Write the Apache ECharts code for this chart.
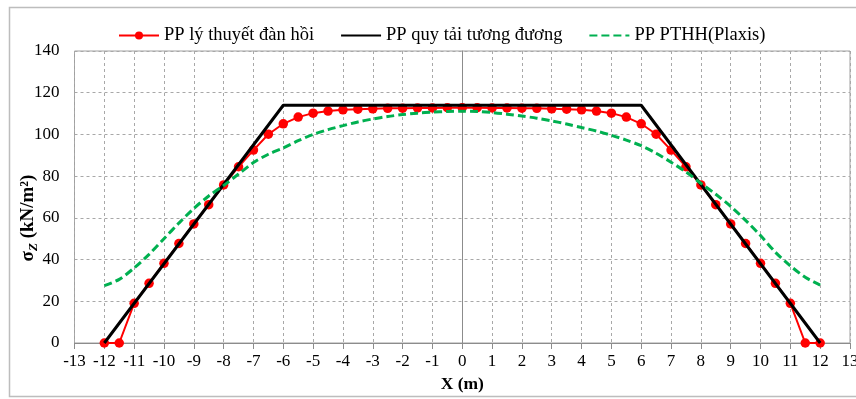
<!DOCTYPE html>
<html>
<head>
<meta charset="utf-8">
<script src="https://cdn.jsdelivr.net/npm/echarts@6/dist/echarts.min.js"></script>
<style>
  html, body { margin: 0; padding: 0; background: #fff; }
  #chart { width: 856px; height: 399px; }
</style>
</head>
<body>
<div id="chart"></div>
<script>
// Vertical stress under an embankment: three calculation methods
const seriesNames = ['PP lý thuyết đàn hồi', 'PP quy tải tương đương', 'PP PTHH(Plaxis)'];

// Elastic theory (sampled every 0.5 m)
const elasticX = [-12, -11.5, -11, -10.5, -10, -9.5, -9, -8.5, -8, -7.5, -7, -6.5, -6, -5.5, -5, -4.5, -4, -3.5, -3, -2.5, -2, -1.5, -1, -0.5,
  0, 0.5, 1, 1.5, 2, 2.5, 3, 3.5, 4, 4.5, 5, 5.5, 6, 6.5, 7, 7.5, 8, 8.5, 9, 9.5, 10, 10.5, 11, 11.5, 12];
const elasticY = [0, 0, 19.0, 28.6, 38.2, 47.7, 57.1, 66.3, 75.8, 84.5, 92.5, 100.1, 105.1, 108.3, 110.2, 111.2, 111.8, 112.1, 112.3, 112.5, 112.6, 112.7, 112.7, 112.8,
  112.8, 112.8, 112.7, 112.7, 112.6, 112.5, 112.3, 112.1, 111.8, 111.2, 110.2, 108.3, 105.1, 100.1, 92.5, 84.5, 75.8, 66.3, 57.1, 47.7, 38.2, 28.6, 19.0, 0, 0];

// Equivalent load method (trapezoid)
const equivX = [-12, -6, 6, 12];
const equivY = [0, 114, 114, 0];

// Finite element (Plaxis)
const plaxisX = [-12, -11.5, -11, -10.5, -10, -9.5, -9, -8.5, -8, -7.5, -7, -6.5, -6, -5.5, -5, -4.5, -4, -3.5, -3, -2.5, -2, -1.5, -1, -0.5,
  0, 0.5, 1, 1.5, 2, 2.5, 3, 3.5, 4, 4.5, 5, 5.5, 6, 6.5, 7, 7.5, 8, 8.5, 9, 9.5, 10, 10.5, 11, 11.5, 12];
const plaxisY = [27.5, 30.5, 36, 42.5, 50, 57.5, 64.5, 70.5, 75.5, 81, 86.5, 90.5, 93.5, 97, 100, 102.3, 104.2, 106, 107.4, 108.6, 109.5, 110.2, 110.7, 111,
  111.1, 111, 110.5, 109.7, 108.8, 107.8, 106.5, 105, 103.3, 101.6, 99.6, 97.3, 94.6, 91, 86.7, 82, 76.6, 71.3, 65.5, 58.8, 51.5, 43.5, 37, 31.5, 27.8];

const pair = (xs, ys) => xs.map((x, i) => [x, ys[i]]);

const FONT = '"Liberation Serif", "Times New Roman", serif';
const gridLine = { show: true, lineStyle: { color: '#a8a8a8', type: [3, 3], width: 1 } };

const chart = echarts.init(document.getElementById('chart'), null, { renderer: 'canvas' });
chart.setOption({
  animation: false,
  backgroundColor: '#fff',
  textStyle: { fontFamily: FONT },
  graphic: [
    {
      type: 'rect',
      shape: { x: 9.5, y: 7.5, width: 900, height: 389 },
      style: { fill: 'none', stroke: '#bdbdbd', lineWidth: 1.5 },
      silent: true
    },
    {
      type: 'text',
      x: 28, y: 218,
      rotation: Math.PI / 2,
      style: {
        text: '{b|σ}{s|Z}{b| (kN/m²)}',
        align: 'center',
        verticalAlign: 'middle',
        rich: {
          b: { fontFamily: FONT, fontSize: 19, fontWeight: 'bold', fill: '#000', lineHeight: 24, verticalAlign: 'middle' },
          s: { fontFamily: FONT, fontSize: 13, fontWeight: 'bold', fontStyle: 'italic', fill: '#000', lineHeight: 24, verticalAlign: 'bottom' }
        }
      }
    }
  ],
  legend: {
    top: 21,
    left: 113,
    itemWidth: 40,
    itemHeight: 10,
    itemGap: 26,
    textStyle: { fontFamily: FONT, fontSize: 18.5, color: '#000' },
    data: [
      { name: seriesNames[0] },
      { name: seriesNames[1], itemStyle: { opacity: 0 } },
      { name: seriesNames[2], itemStyle: { opacity: 0 } }
    ]
  },
  grid: {
    left: 74.5, right: 6, top: 51, bottom: 56,
    show: true, borderColor: '#a0a0a0', borderWidth: 1,
    containLabel: false,
    outerBoundsMode: 'none'
  },
  xAxis: {
    type: 'value',
    min: -13, max: 13, interval: 1,
    name: 'X (m)',
    nameLocation: 'middle',
    nameGap: 32,
    nameTextStyle: { fontFamily: FONT, fontSize: 17.5, fontWeight: 'bold', color: '#000' },
    axisLine: { show: true, lineStyle: { color: '#8c8c8c', width: 1 } },
    axisTick: { show: true, length: 6, inside: false, lineStyle: { color: '#8c8c8c' } },
    axisLabel: { fontFamily: FONT, fontSize: 17, color: '#000', margin: 10 },
    splitLine: gridLine
  },
  yAxis: {
    type: 'value',
    min: 0, max: 140, interval: 20,
    axisLine: { show: true, lineStyle: { color: '#8c8c8c', width: 1 } },
    axisTick: { show: false },
    axisLabel: { fontFamily: FONT, fontSize: 17, color: '#000', margin: 15 },
    splitLine: gridLine
  },
  series: [
    {
      name: seriesNames[0],
      type: 'line',
      data: pair(elasticX, elasticY),
      symbol: 'circle',
      symbolSize: 9.5,
      itemStyle: { color: '#ff0000' },
      lineStyle: { color: '#ff0000', width: 2 },
      z: 2
    },
    {
      name: seriesNames[1],
      type: 'line',
      data: pair(equivX, equivY),
      symbol: 'none',
      itemStyle: { color: '#000' },
      lineStyle: { color: '#000', width: 3 },
      z: 3
    },
    {
      name: seriesNames[2],
      type: 'line',
      data: pair(plaxisX, plaxisY),
      symbol: 'none',
      smooth: 0.3,
      itemStyle: { color: '#00b050' },
      lineStyle: { color: '#00b050', width: 3, type: [8, 4] },
      z: 4
    }
  ]
});
</script>
</body>
</html>
